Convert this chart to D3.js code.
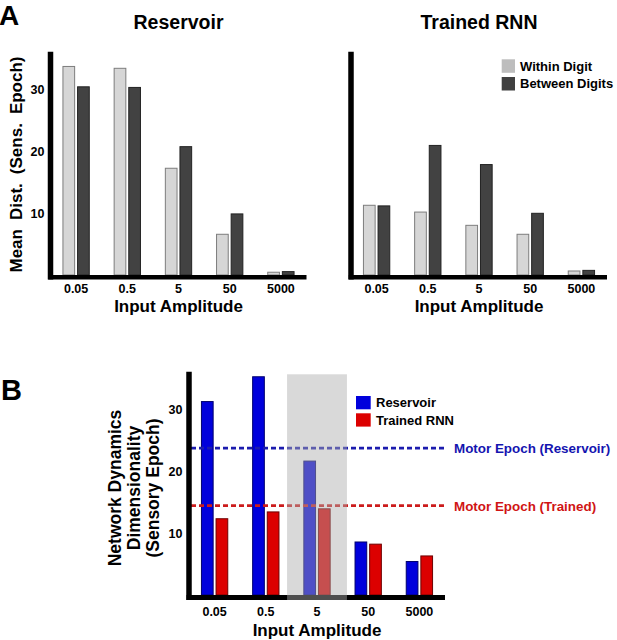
<!DOCTYPE html>
<html><head><meta charset="utf-8">
<script src="https://cdn.jsdelivr.net/npm/d3@7"></script>
<style>
body{margin:0;background:#fff;}
svg text{font-family:"Liberation Sans",Arial,Helvetica,sans-serif;font-weight:bold;}
</style></head><body>
<svg id="c" width="617" height="640"></svg>
<script>
// ---------- data ----------
const amplitudes = ["0.05", "0.5", "5", "50", "5000"];
const distSeries = ["Within Digit", "Between Digits"];
const reservoirWithin  = [33.8, 33.5, 17.3, 6.6, 0.45];
const reservoirBetween = [30.5, 30.4, 20.8, 9.9, 0.55];
const trainedWithin    = [11.3, 10.2, 8.05, 6.6, 0.65];
const trainedBetween   = [11.2, 21.0, 17.9, 10.0, 0.75];
const yTicksA = [10, 20, 30];

const dimSeries = ["Reservoir", "Trained RNN"];
const dimReservoir = [31.2, 35.2, 21.6, 8.55, 5.4];
const dimTrained   = [12.3, 13.4, 13.9, 8.2, 6.3];
const motorLabels = ["Motor Epoch (Reservoir)", "Motor Epoch (Trained)"];
const motorValues = [23.7, 14.4];
const highlightCat = "5";
const yTicksB = [10, 20, 30];

// ---------- styles ----------
const distFill   = ["#d6d6d6", "#424242"];
const distStroke = ["#7d7d7d", "#222222"];
const distSwatch = ["#bdbdbd", "#404040"];
const dimFill    = ["#0000dc", "#dc0000"];
const dimStroke  = ["#00006e", "#6e0000"];
const motorLine  = ["#1c1cae", "#cc1c1c"];
const motorText  = ["#1414b0", "#d01414"];

const svg = d3.select("#c");

function barPanel(opts) {
  const g = svg.append("g");
  const x = d3.scaleBand().domain(amplitudes).range(opts.xr)
    .paddingInner(0.486).paddingOuter(0.243);
  const xi = d3.scaleBand().domain(opts.series).range([0, x.bandwidth()]).paddingInner(0.2);
  const y = d3.scaleLinear().domain(opts.yd).range(opts.yr);

  const rows = amplitudes.map((a, i) => ({a, vals: opts.values.map(v => v[i])}));
  const grp = g.selectAll("g.grp").data(rows).join("g")
    .attr("transform", d => `translate(${x(d.a)},0)`);
  grp.selectAll("rect").data(d => d.vals.map((v, k) => ({k, v}))).join("rect")
    .attr("x", d => xi(opts.series[d.k]))
    .attr("width", xi.bandwidth())
    .attr("y", d => y(d.v))
    .attr("height", d => y(0) - y(d.v))
    .attr("fill", d => opts.fill[d.k])
    .attr("stroke", d => opts.stroke[d.k])
    .attr("stroke-width", 1);

  if (opts.before) opts.before(g, x, y);

  // axes lines
  const x0 = opts.xr[0], x1 = opts.xr[1];
  const aw = opts.axisW;
  g.append("line").attr("x1", x0 - aw / 2).attr("x2", x1)
    .attr("y1", y(0) + aw / 2).attr("y2", y(0) + aw / 2)
    .attr("stroke", "#000").attr("stroke-width", aw);
  g.append("line").attr("x1", x0).attr("x2", x0)
    .attr("y1", opts.yr[1]).attr("y2", y(0) + aw)
    .attr("stroke", "#000").attr("stroke-width", opts.axisWy);

  // x tick labels
  const xa = g.append("g").attr("transform", `translate(0,${y(0)})`)
    .call(d3.axisBottom(x).tickSize(0).tickPadding(opts.xPad));
  xa.select(".domain").remove();
  xa.selectAll("text").attr("font-size", 12.5).attr("fill", "#000")
    .style("font-family", '"Liberation Sans",Arial,sans-serif').style("font-weight", "bold");

  if (opts.showY) {
    const ya = g.append("g").attr("transform", `translate(${x0},0)`)
      .call(d3.axisLeft(y).tickValues(opts.yTicks).tickSize(0).tickPadding(opts.yPad));
    ya.select(".domain").remove();
    ya.selectAll("text").attr("font-size", 12.5).attr("fill", "#000")
      .style("font-family", '"Liberation Sans",Arial,sans-serif').style("font-weight", "bold");
  }

  g.append("text").attr("x", (x0 + x1) / 2).attr("y", opts.xLabelY)
    .attr("text-anchor", "middle").attr("font-size", 17).text("Input Amplitude");
  if (opts.title) {
    g.append("text").attr("x", (x0 + x1) / 2).attr("y", 29)
      .attr("text-anchor", "middle").attr("font-size", 19.5).text(opts.title);
  }
  return {g, x, y};
}

// ---------- Panel A ----------
svg.append("text").attr("x", -1).attr("y", 25).attr("font-size", 28).text("A");

const yA = [0, 36.2], yrA = [275, 275 - 36.2 * 6.17];
barPanel({xr: [50.5, 306.5], yd: yA, yr: yrA, series: distSeries,
  values: [reservoirWithin, reservoirBetween], fill: distFill, stroke: distStroke,
  axisW: 4.5, axisWy: 5.5, xPad: 9.5, xLabelY: 312, showY: true, yTicks: yTicksA, yPad: 6,
  title: "Reservoir"});
barPanel({xr: [351, 607], yd: yA, yr: yrA, series: distSeries,
  values: [trainedWithin, trainedBetween], fill: distFill, stroke: distStroke,
  axisW: 4.5, axisWy: 5.5, xPad: 9.5, xLabelY: 312, showY: false,
  title: "Trained RNN"});

svg.append("text").attr("transform", "translate(22,164.5) rotate(-90)")
  .attr("text-anchor", "middle").attr("font-size", 17).attr("word-spacing", 4.3)
  .text("Mean Dist. (Sens. Epoch)");

// legend A
const legA = svg.append("g");
distSeries.forEach((s, k) => {
  legA.append("rect").attr("x", 501.7).attr("y", 59.3 + k * 17.7)
    .attr("width", 13.3).attr("height", 13.5).attr("fill", distSwatch[k]);
  legA.append("text").attr("x", 520).attr("y", 66 + k * 17.7).attr("dy", "0.36em")
    .attr("font-size", 13).text(s);
});

// ---------- Panel B ----------
svg.append("text").attr("x", 1).attr("y", 400).attr("font-size", 29).text("B");

barPanel({xr: [189, 445], yd: [0, 36], yr: [595, 595 - 36 * 6.2], series: dimSeries,
  values: [dimReservoir, dimTrained], fill: dimFill, stroke: dimStroke,
  axisW: 5, axisWy: 5.5, xPad: 12, xLabelY: 635.5, showY: true, yTicks: yTicksB, yPad: 6.5,
  before: (g, x, y) => {
    motorValues.forEach((v, k) => {
      g.append("line").attr("x1", 191).attr("x2", 445)
        .attr("y1", y(v)).attr("y2", y(v))
        .attr("stroke", motorLine[k]).attr("stroke-width", 2.8)
        .attr("stroke-dasharray", "5,3");
      g.append("text").attr("x", 454).attr("y", y(v)).attr("dy", "0.36em")
        .attr("font-size", 13.4).attr("fill", motorText[k]).text(motorLabels[k]);
    });
  }});

// highlight overlay (drawn on top of bars, lines and axis)
{
  const xB = d3.scaleBand().domain(amplitudes).range([189, 445]);
  const yB = d3.scaleLinear().domain([0, 36]).range([595, 595 - 36 * 6.2]);
  const cx = xB(highlightCat) + xB.bandwidth() / 2;
  const half = xB.step() * 0.585;
  svg.append("rect").attr("x", cx - half).attr("width", 2 * half)
    .attr("y", yB(35.6)).attr("height", yB(0) + 5 - yB(35.6))
    .attr("fill", "rgb(173,173,173)").attr("fill-opacity", 0.46);
}

svg.append("text").attr("transform", "translate(121,488) rotate(-90)")
  .attr("text-anchor", "middle").attr("font-size", 17.5)
  .selectAll("tspan").data(["Network Dynamics", "Dimensionality", "(Sensory Epoch)"]).join("tspan")
  .attr("x", 0).attr("dy", (d, i) => i === 0 ? 0 : 19.2).text(d => d);

// legend B
const legB = svg.append("g");
dimSeries.forEach((s, k) => {
  legB.append("rect").attr("x", 356).attr("y", 396 + k * 17.3)
    .attr("width", 14.7).attr("height", 13.3).attr("fill", dimFill[k]);
  legB.append("text").attr("x", 376).attr("y", 402.7 + k * 17.3).attr("dy", "0.36em")
    .attr("font-size", 13).text(s);
});
</script>
</body></html>
